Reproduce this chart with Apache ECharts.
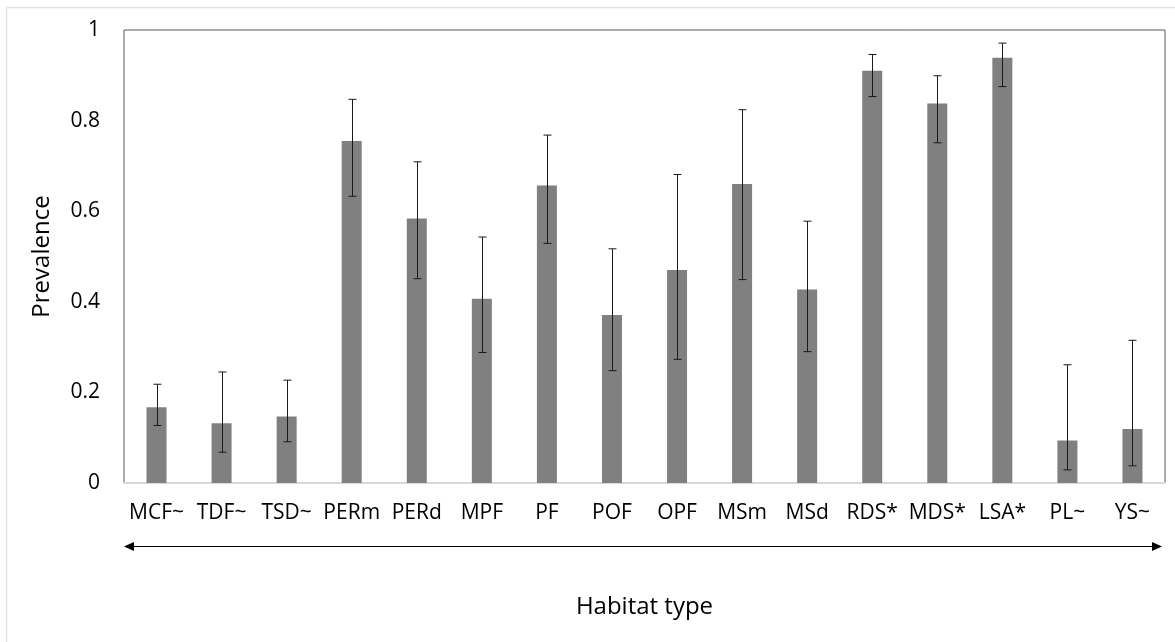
<!DOCTYPE html>
<html>
<head>
<meta charset="utf-8">
<script src="https://cdn.jsdelivr.net/npm/echarts@6/dist/echarts.min.js"></script>
<style>
html,body{margin:0;padding:0;background:#fff;}
#chart{width:1175px;height:642px;}
</style>
</head>
<body>
<div id="chart"></div>
<script>
const categories = ['MCF~','TDF~','TSD~','PERm','PERd','MPF','PF','POF','OPF','MSm','MSd','RDS*','MDS*','LSA*','PL~','YS~'];
const prevalence = [0.167,0.132,0.147,0.755,0.584,0.407,0.657,0.371,0.470,0.660,0.427,0.910,0.838,0.939,0.094,0.119];
const errLow     = [0.127,0.068,0.091,0.633,0.451,0.288,0.529,0.248,0.273,0.449,0.290,0.853,0.751,0.875,0.029,0.038];
const errHigh    = [0.218,0.245,0.227,0.847,0.709,0.543,0.768,0.517,0.681,0.824,0.578,0.946,0.899,0.971,0.261,0.315];
const yTicks = [0, 0.2, 0.4, 0.6, 0.8, 1];

const FONT = '"Open Sans", "Noto Sans", sans-serif';
const chart = echarts.init(document.getElementById('chart'), null, {renderer:'canvas'});

const errData = categories.map((c,i)=>[i, errLow[i], errHigh[i]]);

const option = {
  backgroundColor:'#fff',
  animation:false,
  grid:{left:124, right:10, top:30, bottom:159, show:true, borderColor:'#595959', borderWidth:1, backgroundColor:'transparent'},
  xAxis:{
    type:'category', data:categories,
    axisLine:{show:true, lineStyle:{color:'#d9d9d9', width:2}},
    axisTick:{show:false},
    axisLabel:{color:'#000', fontFamily:FONT, fontSize:21, margin:20, interval:0},
    name:'Habitat type', nameLocation:'middle', nameGap:112,
    nameTextStyle:{color:'#000', fontFamily:FONT, fontSize:24}
  },
  yAxis:{
    type:'value', min:0, max:1, interval:0.2,
    axisLine:{show:false}, axisTick:{show:false}, splitLine:{show:false},
    axisLabel:{color:'#000', fontFamily:FONT, fontSize:21, margin:24,
      formatter:v=>{ const t = yTicks.find(x=>Math.abs(x-v)<1e-9); return t===undefined? '' : String(t); }},
    name:'Prevalence', nameLocation:'middle', nameGap:70,
    nameTextStyle:{color:'#000', fontFamily:FONT, fontSize:24}
  },
  series:[
    {type:'bar', data:prevalence, barWidth:20, itemStyle:{color:'#808080'}, z:2},
    {type:'custom', data:errData, z:3,
      renderItem:(params, api)=>{
        const x = api.value(0);
        const lo = api.coord([x, api.value(1)]);
        const hi = api.coord([x, api.value(2)]);
        const cx = Math.round(lo[0]) + 0.5;
        const hw = 4;
        const st = {stroke:'#1a1a1a', lineWidth:1};
        return {type:'group', children:[
          {type:'line', shape:{x1:cx, y1:lo[1], x2:cx, y2:hi[1]}, style:st},
          {type:'line', shape:{x1:cx-hw, y1:lo[1], x2:cx+hw, y2:lo[1]}, style:st},
          {type:'line', shape:{x1:cx-hw, y1:hi[1], x2:cx+hw, y2:hi[1]}, style:st}
        ]};
      }
    }
  ]
};
chart.setOption(option);

// decorations: outer border and the double-headed arrow under the axis labels
const w = chart.getWidth(), h = chart.getHeight();
const gx0 = 124, gx1 = w - 10;
const ay = 546.5;
chart.setOption({graphic:[
  {type:'polyline', shape:{points:[[6.5,h],[6.5,7.5],[w,7.5]]}, style:{stroke:'#e3e3e3', lineWidth:1.5, fill:null}, silent:true},
  {type:'line', shape:{x1:gx0+6, y1:ay, x2:gx1-6, y2:ay}, style:{stroke:'#000', lineWidth:1.2}, silent:true},
  {type:'polygon', shape:{points:[[gx0, ay],[gx0+10, ay-4.5],[gx0+10, ay+4.5]]}, style:{fill:'#000'}, silent:true},
  {type:'polygon', shape:{points:[[gx1-3, ay],[gx1-13, ay-4.5],[gx1-13, ay+4.5]]}, style:{fill:'#000'}, silent:true}
]});
</script>
</body>
</html>
